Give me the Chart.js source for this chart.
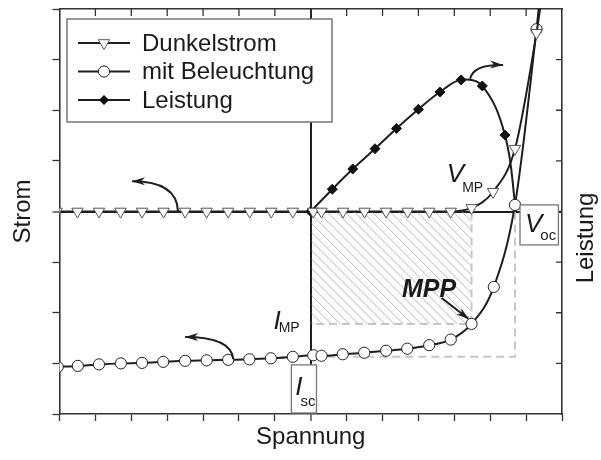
<!DOCTYPE html>
<html>
<head>
<meta charset="utf-8">
<script src="https://cdn.jsdelivr.net/npm/chart.js@4.4.1/dist/chart.umd.min.js"></script>
<style>
  html, body { margin: 0; padding: 0; background: #fff; }
  #wrap { width: 601px; height: 460px; position: relative; }
</style>
</head>
<body>
<div id="wrap"><canvas id="grafico"></canvas></div>
<script>
// Spannung (x) in willkürlichen Einheiten, Achse von -7 bis 7
const dunkelX = [-7.08, -6.5, -5.9, -5.3, -4.7, -4.1, -3.5, -2.9, -2.3, -1.7, -1.1, -0.5, 0.07,
  0.3, 0.9, 1.5, 2.1, 2.7, 3.3, 3.9, 4.48, 5.08, 5.69, 6.29, 6.45];
const dunkelY = [0, 0, 0, 0, 0, 0, 0, 0, 0, 0, 0, 0, 0,
  0, 0, 0, 0, 0, 0, 0, 0.07, 0.39, 1.24, 3.53, 4.3];

const lichtX = [-7.05, -6.49, -5.9, -5.29, -4.7, -4.11, -3.5, -2.9, -2.3, -1.71, -1.11, -0.5, 0.07,
  0.3, 0.89, 1.49, 2.1, 2.69, 3.3, 3.9, 4.48, 5.1, 5.69, 6.29, 6.5];
const lichtY = [-3.07, -3.05, -3.02, -3.0, -2.99, -2.97, -2.95, -2.94, -2.93, -2.92, -2.9, -2.87, -2.84,
  -2.85, -2.82, -2.79, -2.75, -2.71, -2.64, -2.53, -2.22, -1.49, 0.13, 3.6, 5.0];

const leistungX = [0, 0.6, 1.17, 1.79, 2.39, 3.0, 3.6, 4.19, 4.78, 5.41, 5.72];
const leistungY = [0, 0.44, 0.84, 1.24, 1.64, 2.02, 2.36, 2.6, 2.48, 1.51, 0];

// Kennwerte (MPP, Leerlauf, Kurzschluss)
const vMp = 4.48, iMp = -2.22, vOc = 5.69, iSc = -2.87;

const ctx = document.getElementById("grafico");
const schrift = '"Liberation Sans", Arial, Helvetica, sans-serif';
const dunkel = "#1e1e1e";

function punkte(xs, ys) {
  return xs.map((x, i) => ({ x: x, y: ys[i] }));
}
// letzter Punkt ohne Symbol (Kurve läuft aus dem Bild)
function radien(n, r) {
  return Array.from({ length: n }, (_, i) => (i === n - 1 ? 0 : r));
}

// Nulllinien über das Gitter, sonst nur Striche
const nullGitter = {
  color: (c) => (c.tick && c.tick.value === 0 ? dunkel : "rgba(0,0,0,0)"),
  lineWidth: (c) => (c.tick && c.tick.value === 0 ? 2 : 1),
  tickColor: "#333",
  tickWidth: 1.3,
  tickLength: 7,
};

function pfeil(c, p0, p1, p2, kopf) {
  c.beginPath();
  c.moveTo(p0.x, p0.y);
  if (p1) c.quadraticCurveTo(p1.x, p1.y, p2.x, p2.y);
  else c.lineTo(p2.x, p2.y);
  c.stroke();
  const q = p1 || p0;
  const w = Math.atan2(p2.y - q.y, p2.x - q.x);
  c.save();
  c.translate(p2.x, p2.y);
  c.rotate(w);
  c.beginPath();
  c.moveTo(0, 0);
  c.lineTo(-kopf, -4);
  c.lineTo(-kopf * 0.7, 0);
  c.lineTo(-kopf, 4);
  c.closePath();
  c.fill();
  c.restore();
}

function mitIndex(c, haupt, index, x, y, gr, kl, dy) {
  c.font = "italic " + gr + "px " + schrift;
  c.fillText(haupt, x, y);
  const b = c.measureText(haupt).width;
  c.font = kl + "px " + schrift;
  c.fillText(index, x + b - 2, y + dy);
}

function symbol(c, art, x, y) {
  c.beginPath();
  if (art === "triangle") {
    const r = 6.6;
    c.moveTo(x, y + r);
    c.lineTo(x - r * 0.866, y - r / 2);
    c.lineTo(x + r * 0.866, y - r / 2);
    c.closePath();
    c.fillStyle = "#fff"; c.strokeStyle = "#555"; c.lineWidth = 1;
    c.fill(); c.stroke();
  } else if (art === "circle") {
    c.arc(x, y, 5.6, 0, Math.PI * 2);
    c.fillStyle = "#fff"; c.strokeStyle = "#222"; c.lineWidth = 1;
    c.fill(); c.stroke();
  } else {
    const r = 5;
    c.moveTo(x, y - r); c.lineTo(x + r, y); c.lineTo(x, y + r); c.lineTo(x - r, y);
    c.closePath();
    c.fillStyle = "#111";
    c.fill();
  }
}

const beschriftung = {
  id: "beschriftung",
  beforeDatasetsDraw(chart) {
    const c = chart.ctx;
    const { x, y } = chart.scales;
    const x0 = x.getPixelForValue(0), y0 = y.getPixelForValue(0);
    const xm = x.getPixelForValue(vMp), ym = y.getPixelForValue(iMp);
    const xo = x.getPixelForValue(vOc), ys = y.getPixelForValue(iSc);

    // schraffierte Fläche (Leistung am MPP)
    c.save();
    c.beginPath();
    c.rect(x0 + 1, y0, xm - x0 - 1, ym - y0);
    c.clip();
    c.strokeStyle = "#b8b8b8";
    c.lineWidth = 1;
    c.beginPath();
    for (let k = -200; k < 220; k += 9) {
      c.moveTo(x0 + k, y0);
      c.lineTo(x0 + k + 200, y0 + 200);
    }
    c.stroke();
    c.restore();

    // gestrichelte Rahmen
    c.save();
    c.strokeStyle = "#c6c6c6";
    c.lineWidth = 2;
    c.setLineDash([8, 5]);
    c.beginPath();
    c.moveTo(xm, y0); c.lineTo(xm, ym); c.lineTo(x0, ym);
    c.moveTo(xo, y0); c.lineTo(xo, ys); c.lineTo(x0, ys);
    c.stroke();
    c.restore();
  },
  afterDatasetsDraw(chart) {
    const c = chart.ctx;
    const a = chart.chartArea;
    const { x, y, x2, y2 } = chart.scales;
    const p = (vx, vy) => ({ x: x.getPixelForValue(vx), y: y.getPixelForValue(vy) });

    c.save();
    // Striche nach innen (oben, rechts)
    c.strokeStyle = "#333";
    c.lineWidth = 1.3;
    c.beginPath();
    x2.ticks.forEach((t) => {
      if (t.value <= x2.min || t.value >= x2.max) return;
      const px = x2.getPixelForValue(t.value);
      c.moveTo(px, a.top); c.lineTo(px, a.top + 7);
    });
    y2.ticks.forEach((t) => {
      if (t.value <= y2.min || t.value >= y2.max) return;
      const py = y2.getPixelForValue(t.value);
      c.moveTo(a.right, py); c.lineTo(a.right - 6, py);
    });
    c.stroke();

    // Pfeile
    c.strokeStyle = dunkel;
    c.fillStyle = dunkel;
    c.lineWidth = 2;
    pfeil(c, p(-3.7, 0.01), p(-3.73, 0.6), p(-4.98, 0.6), 13);
    pfeil(c, p(-2.16, -2.915), p(-2.22, -2.48), p(-3.5, -2.48), 13);
    pfeil(c, p(4.44, 2.62), p(4.52, 2.91), p(5.36, 2.895), 13);
    pfeil(c, p(3.65, -1.71), null, p(4.39, -2.12), 12);

    // Beschriftungen
    c.fillStyle = "#1a1a1a";
    c.textAlign = "left";
    c.textBaseline = "alphabetic";
    let q = p(3.79, 0.59);
    mitIndex(c, "V", "MP", q.x, q.y, 26, 14, 10);
    q = p(-1.04, -2.32);
    mitIndex(c, "I", "MP", q.x, q.y, 26, 14, 3);
    q = p(2.54, -1.68);
    c.font = "italic bold 25px " + schrift;
    c.fillText("MPP", q.x, q.y);

    // Kästchen V_oc und I_sc
    c.strokeStyle = "#777";
    c.lineWidth = 1.3;
    let b1 = p(5.83, 0.13), b2 = p(6.9, -0.66);
    c.fillStyle = "#fff";
    c.fillRect(b1.x, b1.y, b2.x - b1.x, b2.y - b1.y);
    c.strokeRect(b1.x, b1.y, b2.x - b1.x, b2.y - b1.y);
    c.fillStyle = "#1a1a1a";
    mitIndex(c, "V", "oc", b1.x + 5, b1.y + 27, 26, 15, 8);

    b1 = p(-0.54, -3.03); b2 = p(0.16, -3.98);
    c.fillStyle = "#fff";
    c.fillRect(b1.x, b1.y, b2.x - b1.x, b2.y - b1.y);
    c.strokeRect(b1.x, b1.y, b2.x - b1.x, b2.y - b1.y);
    c.fillStyle = "#1a1a1a";
    mitIndex(c, "I", "sc", b1.x + 4, b1.y + 30, 26, 15, 11);

    // Legende
    const lx = 67, ly = 19, lw = 265, lh = 103;
    c.fillStyle = "#fff";
    c.fillRect(lx, ly, lw, lh);
    c.strokeStyle = "#777";
    c.lineWidth = 1.5;
    c.strokeRect(lx, ly, lw, lh);
    const arten = ["triangle", "circle", "rectRot"];
    chart.data.datasets.forEach((ds, i) => {
      const ry = ly + 24 + i * 28.5;
      c.strokeStyle = dunkel;
      c.lineWidth = 1.8;
      c.beginPath();
      c.moveTo(lx + 11, ry); c.lineTo(lx + 63, ry);
      c.stroke();
      symbol(c, arten[i], lx + 37, ry);
      c.fillStyle = "#1a1a1a";
      c.font = "24px " + schrift;
      c.textBaseline = "middle";
      c.fillText(ds.label, lx + 75, ry + 1);
    });

    // rechte Achsenbeschriftung (von unten nach oben)
    c.translate(586, 238);
    c.rotate(-Math.PI / 2);
    c.textAlign = "center";
    c.textBaseline = "middle";
    c.font = "24px " + schrift;
    c.fillText("Leistung", 0, 0);
    c.restore();
  },
};

const chart = new Chart(ctx, {
  type: "line",
  data: {
    datasets: [
      {
        label: "Dunkelstrom",
        data: punkte(dunkelX, dunkelY),
        borderColor: dunkel,
        borderWidth: 2,
        pointStyle: "triangle",
        pointRotation: 180,
        pointRadius: radien(dunkelX.length, 6.6),
        pointBackgroundColor: "#fff",
        pointBorderColor: "#555",
        pointBorderWidth: 1,
        cubicInterpolationMode: "monotone",
      },
      {
        label: "mit Beleuchtung",
        data: punkte(lichtX, lichtY),
        borderColor: dunkel,
        borderWidth: 2,
        pointStyle: "circle",
        pointRadius: radien(lichtX.length, 5.6),
        pointBackgroundColor: "#fff",
        pointBorderColor: "#222",
        pointBorderWidth: 1,
        cubicInterpolationMode: "monotone",
      },
      {
        label: "Leistung",
        data: punkte(leistungX, leistungY),
        borderColor: dunkel,
        borderWidth: 2,
        pointStyle: "rectRot",
        pointRadius: radien(leistungX.length, 5),
        pointBackgroundColor: "#111",
        pointBorderColor: "#111",
        pointBorderWidth: 1,
        tension: 0.4,
      },
    ],
  },
  options: {
    responsive: true,
    maintainAspectRatio: false,
    animation: false,
    devicePixelRatio: 1,
    layout: { padding: 0 },
    plugins: { legend: { display: false }, tooltip: { enabled: false } },
    scales: {
      x: {
        type: "linear", position: "bottom", min: -7, max: 7,
        ticks: { stepSize: 1, display: false },
        grid: nullGitter,
        border: { color: "#333", width: 1.6 },
        title: { display: true, text: "Spannung", color: "#1a1a1a",
          font: { family: schrift, size: 24 }, padding: { top: 0, bottom: 8 } },
        afterFit: (s) => { s.height = 46; },
      },
      x2: {
        type: "linear", position: "top", min: -7, max: 7,
        ticks: { stepSize: 1, display: false },
        grid: { drawOnChartArea: false, drawTicks: false },
        border: { color: "#333", width: 1.6 },
        afterFit: (s) => { s.height = 9; },
      },
      y: {
        type: "linear", position: "left", min: -4, max: 4,
        ticks: { stepSize: 1, display: false },
        grid: nullGitter,
        border: { color: "#333", width: 1.6 },
        title: { display: true, text: "Strom", color: "#1a1a1a",
          font: { family: schrift, size: 24 }, padding: { top: 9, bottom: 0 } },
        afterFit: (s) => { s.width = 59.5; },
      },
      y2: {
        type: "linear", position: "right", min: -4, max: 4,
        ticks: { stepSize: 1, display: false },
        grid: { drawOnChartArea: false, drawTicks: false },
        border: { color: "#333", width: 1.6 },
        afterFit: (s) => { s.width = 39; },
      },
    },
  },
  plugins: [beschriftung],
});
</script>
</body>
</html>
